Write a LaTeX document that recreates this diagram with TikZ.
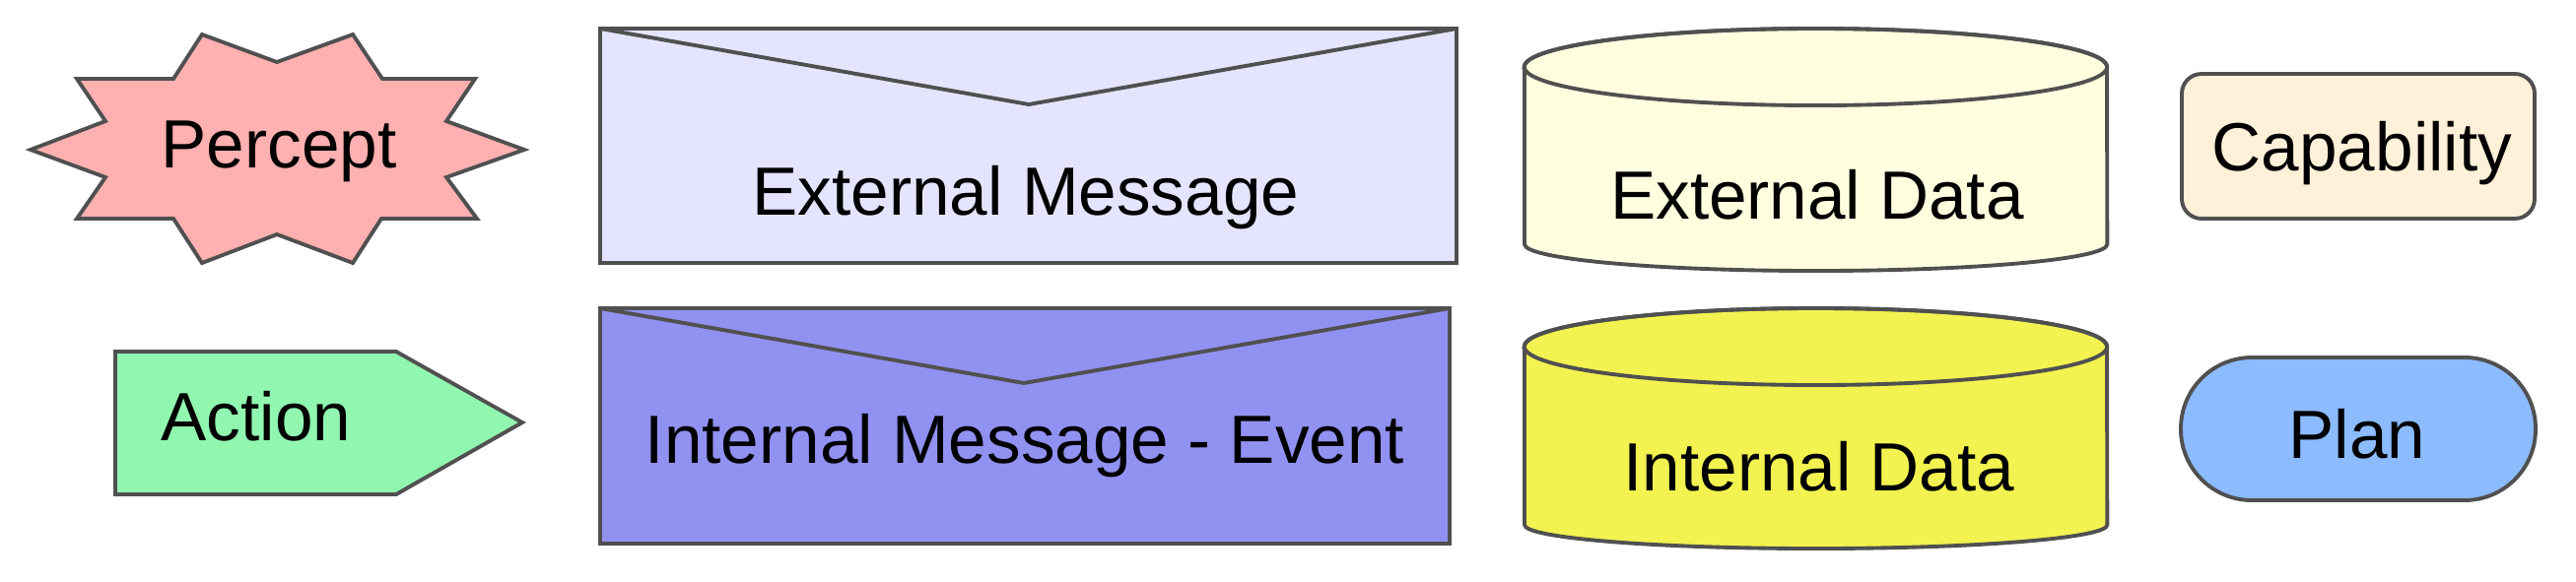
\documentclass[tikz,border=0pt]{standalone}
\usepackage{fontspec}
\setmainfont{Liberation Sans}
\definecolor{perceptc}{HTML}{FFB0B0}
\definecolor{actionc}{HTML}{90F6B0}
\definecolor{extmsgc}{HTML}{E4E4FF}
\definecolor{intmsgc}{HTML}{9191F2}
\definecolor{extdatac}{HTML}{FFFFE0}
\definecolor{intdatac}{HTML}{F2F250}
\definecolor{capc}{HTML}{FFF0D9}
\definecolor{planc}{HTML}{8CBBFF}
\definecolor{edge}{HTML}{505050}
\begin{document}
\begin{tikzpicture}[x=0.01cm,y=-0.01cm,
  shapeline/.style={draw=edge,line width=1.1pt,line join=miter},
  lab/.style={anchor=base,inner sep=0pt,outer sep=0pt,font=\fontsize{19.7}{24}\selectfont}]
\useasboundingbox (0,0) rectangle (2614,590);
% Percept star
\path[shapeline,fill=perceptc] (31,152) -- (107,123) -- (78,80) -- (176,80) -- (205,35) -- (281,63) -- (358,35) -- (388,80) -- (482,80) -- (453,123) -- (532,152) -- (453,180) -- (484,222) -- (387,222) -- (358,267) -- (281,238) -- (205,267) -- (176,222) -- (78,222) -- (107,180) -- cycle;
\node[lab] (percept) at (283,170) {Percept};
% Action
\path[shapeline,fill=actionc] (117,357) -- (402,357) -- (530,429) -- (402,502) -- (117,502) -- cycle;
\node[lab] (action) at (260,447) {Action};
% External message envelope
\path[shapeline,fill=extmsgc] (609,29) rectangle (1478,267);
\draw[shapeline] (609,29) -- (1044,106) -- (1478,29);
\node[lab] (extmsg) at (1041,218) {External Message};
% Internal message envelope
\path[shapeline,fill=intmsgc] (609,313) rectangle (1471,552);
\draw[shapeline] (609,313) -- (1039,389) -- (1471,313);
\node[lab] (intmsg) at (1040,470) {Internal Message - Event};
% External data cylinder
\path[shapeline,fill=extdatac] (1547,68) -- (1547,248) arc[start angle=180,end angle=360,x radius=2.955cm,y radius=0.27cm] -- (2138,68) arc[start angle=0,end angle=180,x radius=2.955cm,y radius=0.39cm] -- cycle;
\draw[shapeline] (1842.5,68) ellipse [x radius=2.955cm,y radius=0.39cm];
\node[lab] (extdata) at (1844,222) {External Data};
% Internal data cylinder
\path[shapeline,fill=intdatac] (1547,352) -- (1547,533) arc[start angle=180,end angle=360,x radius=2.955cm,y radius=0.24cm] -- (2138,352) arc[start angle=0,end angle=180,x radius=2.955cm,y radius=0.39cm] -- cycle;
\draw[shapeline] (1842.5,352) ellipse [x radius=2.955cm,y radius=0.39cm];
\node[lab] (intdata) at (1846,498) {Internal Data};
% Capability
\path[shapeline,fill=capc,rounded corners=0.2cm] (2214,75) rectangle (2572,222);
\node[lab] (cap) at (2397,173) {Capability};
% Plan
\path[shapeline,fill=planc,rounded corners=0.72cm] (2213,363) rectangle (2573,508);
\node[lab] (plan) at (2392,465) {Plan};
\end{tikzpicture}
\end{document}
